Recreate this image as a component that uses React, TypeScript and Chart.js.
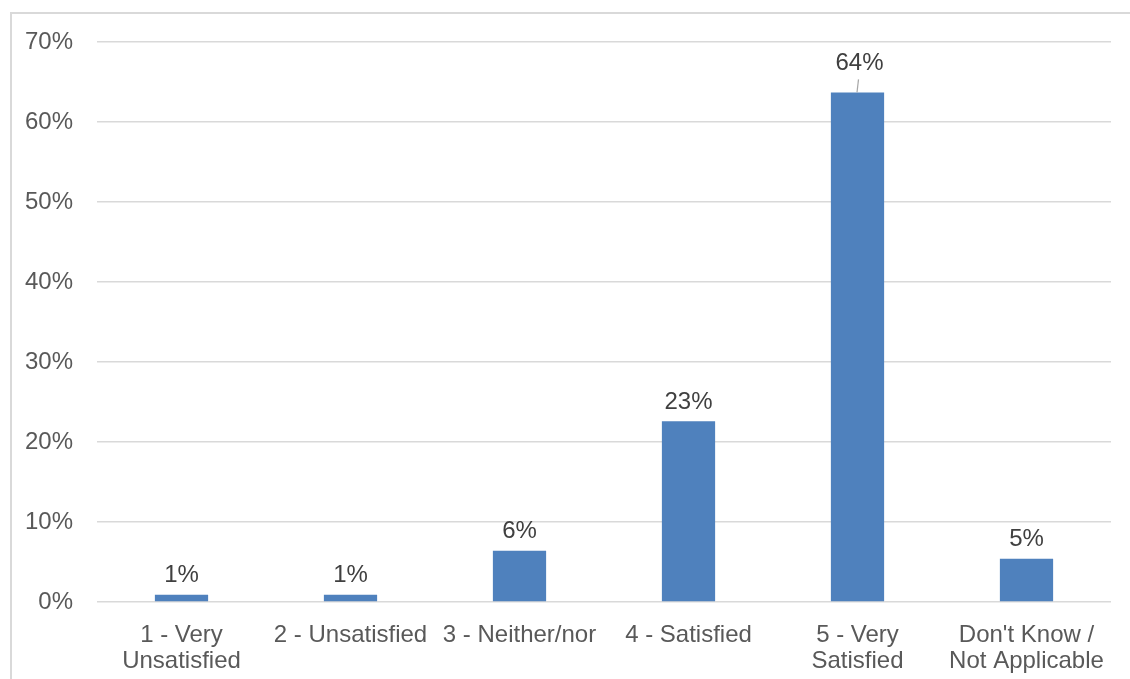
import React, { useEffect, useRef } from "react";
import { Chart, registerables } from "chart.js";

Chart.register(...registerables);

// Survey response categories and share of respondents (%)
const categories: (string | string[])[] = [
  ["1 - Very", "Unsatisfied"],
  "2 - Unsatisfied",
  "3 - Neither/nor",
  "4 - Satisfied",
  ["5 - Very", "Satisfied"],
  ["Don't Know /", "Not Applicable"],
];
const shares: number[] = [0.9, 0.9, 6.4, 22.6, 63.7, 5.4];
const yTicks: number[] = [0, 10, 20, 30, 40, 50, 60, 70];

const FONT = "'Liberation Sans', Arial, sans-serif";
const BAR_COLOR = "#4F81BD";

// Value labels above each bar; the tallest gets a short leader line
const valueLabels = {
  id: "valueLabels",
  afterDatasetsDraw(chart: Chart) {
    const ctx = chart.ctx;
    const meta = chart.getDatasetMeta(0);
    const maxVal = Math.max(...shares);
    ctx.save();
    ctx.font = `24px ${FONT}`;
    ctx.fillStyle = "#404040";
    ctx.textAlign = "center";
    ctx.textBaseline = "middle";
    meta.data.forEach((bar: any, i: number) => {
      const v = shares[i];
      const text = `${Math.round(v)}%`;
      if (v === maxVal) {
        ctx.fillText(text, bar.x + 2, bar.y - 29);
        ctx.strokeStyle = "#A6A6A6";
        ctx.lineWidth = 1.2;
        ctx.beginPath();
        ctx.moveTo(bar.x + 1, bar.y - 13);
        ctx.lineTo(bar.x - 0.5, bar.y);
        ctx.stroke();
      } else {
        ctx.fillText(text, bar.x, bar.y - 19);
      }
    });
    ctx.restore();
  },
};

export default function App() {
  const canvasRef = useRef<HTMLCanvasElement | null>(null);

  useEffect(() => {
    document.body.style.margin = "0";
    const canvas = canvasRef.current;
    if (!canvas) return;
    const chart = new Chart(canvas, {
      type: "bar",
      data: {
        labels: categories,
        datasets: [
          {
            data: shares,
            backgroundColor: BAR_COLOR,
            borderWidth: 0,
            barPercentage: 0.315,
            categoryPercentage: 1,
          },
        ],
      },
      options: {
        animation: false,
        responsive: false,
        devicePixelRatio: 1,
        layout: { padding: { left: 0, right: 19, top: 42, bottom: 0 } },
        plugins: {
          legend: { display: false },
          tooltip: { enabled: false },
          title: { display: false },
        },
        scales: {
          x: {
            grid: { display: false, drawTicks: false },
            border: { display: false },
            ticks: {
              color: "#595959",
              font: { family: FONT, size: 24, lineHeight: 1.08 },
              padding: 20,
              maxRotation: 0,
              minRotation: 0,
              autoSkip: false,
            },
            afterFit: (s: any) => {
              s.height = 77;
            },
          },
          y: {
            min: 0,
            max: 70,
            afterBuildTicks: (s: any) => {
              s.ticks = yTicks.map((v) => ({ value: v }));
            },
            grid: { color: "#D9D9D9", lineWidth: 1.6, drawTicks: false },
            border: { display: false },
            ticks: {
              color: "#595959",
              font: { family: FONT, size: 24 },
              padding: 24,
              callback: (v: any) => `${v}%`,
            },
            afterFit: (s: any) => {
              s.width = 97;
            },
          },
        },
      },
      plugins: [valueLabels],
    });
    return () => chart.destroy();
  }, []);

  return (
    <div
      style={{
        position: "relative",
        width: 1130,
        height: 679,
        overflow: "hidden",
        background: "#fff",
      }}
    >
      <div
        style={{
          position: "absolute",
          left: 10,
          top: 12,
          width: 1200,
          height: 800,
          border: "2px solid #D9D9D9",
          boxSizing: "border-box",
        }}
      />
      <canvas
        ref={canvasRef}
        width={1130}
        height={679}
        style={{ position: "absolute", left: 0, top: 0, width: 1130, height: 679 }}
      />
    </div>
  );
}
